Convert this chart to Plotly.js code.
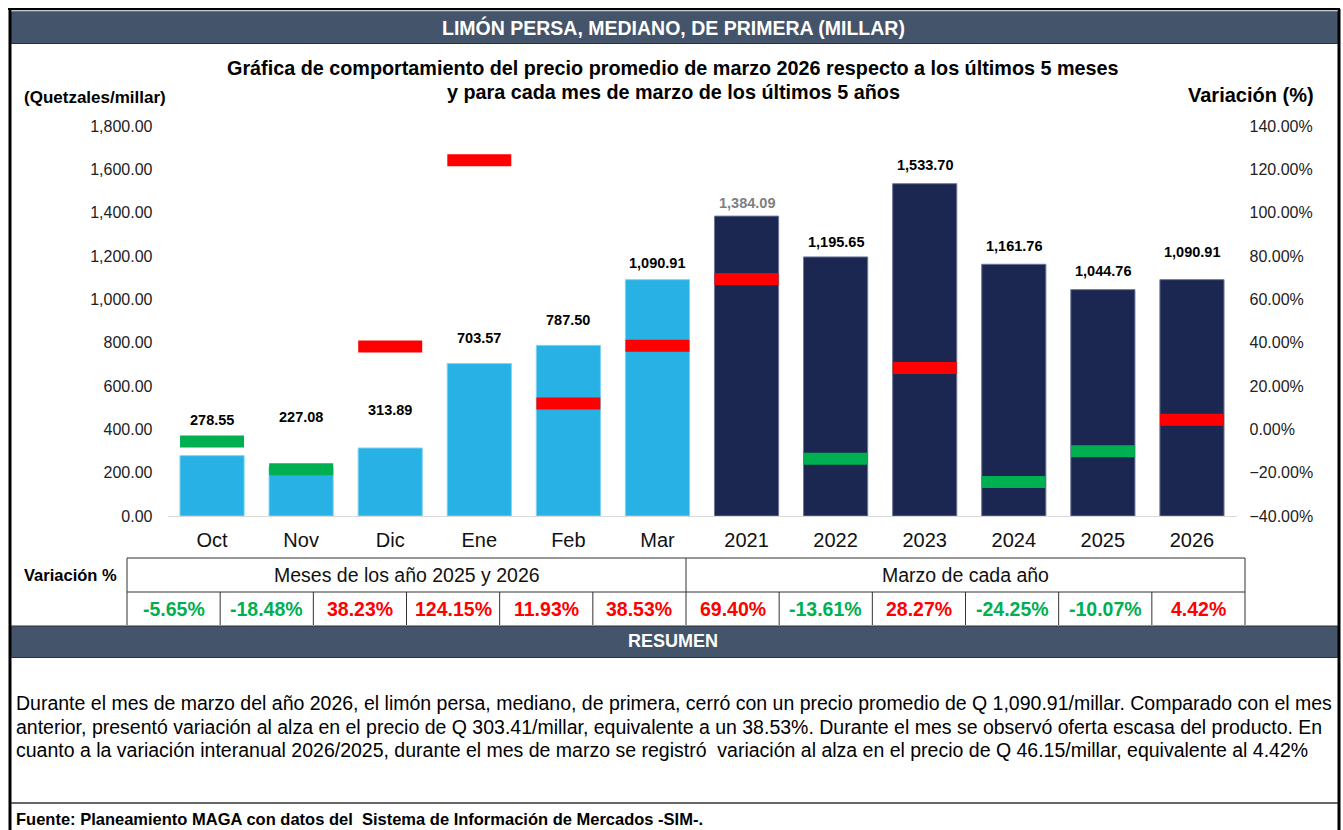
<!DOCTYPE html>
<html>
<head>
<meta charset="utf-8">
<script src="https://cdn.plot.ly/plotly-3.0.1.min.js"></script>
<style>
html,body{margin:0;padding:0;background:#fff;}
#chart{width:1343px;height:830px;}
</style>
</head>
<body>
<div id="chart"></div>
<script>
// ---- data ----
const categories = ['Oct','Nov','Dic','Ene','Feb','Mar','2021','2022','2023','2024','2025','2026'];
const prices = [278.55, 227.08, 313.89, 703.57, 787.50, 1090.91, 1384.09, 1195.65, 1533.70, 1161.76, 1044.76, 1090.91];
const variation = [-5.65, -18.48, 38.23, 124.15, 11.93, 38.53, 69.40, -13.61, 28.27, -24.25, -10.07, 4.42];
const groupLabels = ['Meses de los año 2025 y 2026', 'Marzo de cada año'];
const summaryLines = [
  'Durante el mes de marzo del año 2026, el limón persa, mediano, de primera, cerró con un precio promedio de Q 1,090.91/millar. Comparado con el mes',
  'anterior, presentó variación al alza en el precio de Q 303.41/millar, equivalente a un 38.53%. Durante el mes se observó oferta escasa del producto. En',
  'cuanto a la variación interanual 2026/2025, durante el mes de marzo se registró  variación al alza en el precio de Q 46.15/millar, equivalente al 4.42%'
];

// ---- styling helpers ----
const W = 1343, H = 830;
const px = x => x / W;
const py = y => 1 - y / H;
const FONT = 'Liberation Sans, Arial, sans-serif';
const HEAD = '#44546A';
const LIGHT = '#27B1E5';
const DARK = '#1C2751';
const RED = '#FF0000';
const GREEN = '#00B050';
const labelShift = [36, 50, 38, 26, 25, 17, 13, 15, 19, 18, 19, 28];

const fmtNum = v => v.toLocaleString('en-US', {minimumFractionDigits: 2, maximumFractionDigits: 2});
const fmtPct = v => v.toFixed(2) + '%';

const barColors = categories.map((c, i) => i < 6 ? LIGHT : DARK);
const barLine = categories.map((c, i) => i < 6 ? '#7FD3F2' : '#6C7699');
const varColors = variation.map(v => v < 0 ? GREEN : RED);

const traces = [
  {
    type: 'bar', x: categories, y: prices, yaxis: 'y',
    marker: {color: barColors, line: {color: barLine, width: 1}},
    hoverinfo: 'x+y', showlegend: false
  },
  {
    type: 'scatter', mode: 'markers', x: categories, y: variation, yaxis: 'y2',
    marker: {symbol: 'line-ew', size: 45.7, color: varColors, line: {color: varColors, width: 12}},
    hoverinfo: 'x+y', showlegend: false, cliponaxis: false
  }
];

const shapes = [];
const annotations = [];

// outer frame
shapes.push({type:'line', xref:'paper', yref:'paper', x0:px(8), x1:px(1340), y0:py(9), y1:py(9), line:{color:'#000', width:2}});
shapes.push({type:'line', xref:'paper', yref:'paper', x0:px(10), x1:px(10), y0:py(9), y1:py(830), line:{color:'#000', width:3}});
shapes.push({type:'line', xref:'paper', yref:'paper', x0:px(1339), x1:px(1339), y0:py(9), y1:py(830), line:{color:'#000', width:3}});

// header bars
shapes.push({type:'rect', xref:'paper', yref:'paper', x0:px(11), x1:px(1338), y0:py(43), y1:py(11), fillcolor:HEAD, line:{width:0}, layer:'below'});
shapes.push({type:'line', xref:'paper', yref:'paper', x0:px(11), x1:px(1338), y0:py(11), y1:py(11), line:{color:'#8E959E', width:1}});
shapes.push({type:'line', xref:'paper', yref:'paper', x0:px(11), x1:px(1338), y0:py(43.5), y1:py(43.5), line:{color:'#2B2F36', width:1}});
shapes.push({type:'rect', xref:'paper', yref:'paper', x0:px(11), x1:px(1338), y0:py(657), y1:py(626), fillcolor:HEAD, line:{width:0}, layer:'below'});
shapes.push({type:'line', xref:'paper', yref:'paper', x0:px(11), x1:px(1338), y0:py(626), y1:py(626), line:{color:'#2B2F36', width:1}});
shapes.push({type:'line', xref:'paper', yref:'paper', x0:px(11), x1:px(1338), y0:py(657.5), y1:py(657.5), line:{color:'#2B2F36', width:1}});

annotations.push({xref:'paper', yref:'paper', x:px(673), y:py(27), text:'<b>LIMÓN PERSA, MEDIANO, DE PRIMERA (MILLAR)</b>', showarrow:false, font:{family:FONT, size:19.5, color:'#fff'}, xanchor:'center', yanchor:'middle'});
annotations.push({xref:'paper', yref:'paper', x:px(673), y:py(641), text:'<b>RESUMEN</b>', showarrow:false, font:{family:FONT, size:18, color:'#fff'}, xanchor:'center', yanchor:'middle'});

// chart titles
annotations.push({xref:'paper', yref:'paper', x:px(673), y:py(68), text:'<b>Gráfica de comportamiento del precio promedio de marzo 2026 respecto a los últimos 5 meses</b>', showarrow:false, font:{family:FONT, size:19.8, color:'#000'}, xanchor:'center', yanchor:'middle'});
annotations.push({xref:'paper', yref:'paper', x:px(673), y:py(92), text:'<b>y para cada mes de marzo de los últimos 5 años</b>', showarrow:false, font:{family:FONT, size:19.8, color:'#000'}, xanchor:'center', yanchor:'middle'});
annotations.push({xref:'paper', yref:'paper', x:px(22), y:py(98), text:'<b>(Quetzales/millar)</b>', showarrow:false, font:{family:FONT, size:17, color:'#000'}, xanchor:'left', yanchor:'middle'});
annotations.push({xref:'paper', yref:'paper', x:px(1316), y:py(95), text:'<b>Variación (%)</b>', showarrow:false, font:{family:FONT, size:20, color:'#000'}, xanchor:'right', yanchor:'middle'});

// bar value labels
categories.forEach((c, i) => {
  annotations.push({
    x: i, y: prices[i], xref:'x', yref:'y', text:'<b>' + fmtNum(prices[i]) + '</b>',
    showarrow:false, yanchor:'middle', yshift: labelShift[i],
    font:{family:FONT, size:14.5, color: i === 6 ? '#7F7F7F' : '#000'}
  });
});

// table
const tL = 127, tR = 1245, cw = (tR - tL) / 12;
const r0 = 558, r1 = 592, r2 = 625;
const tline = {color:'#333', width:1};
shapes.push({type:'line', xref:'paper', yref:'paper', x0:px(tL), x1:px(tR), y0:py(r0), y1:py(r0), line:tline});
shapes.push({type:'line', xref:'paper', yref:'paper', x0:px(tL), x1:px(tR), y0:py(r1), y1:py(r1), line:tline});
for (let k = 0; k <= 12; k++) {
  const x = tL + k * cw;
  const full = (k === 0 || k === 6 || k === 12);
  shapes.push({type:'line', xref:'paper', yref:'paper', x0:px(x), x1:px(x), y0:py(full ? r0 : r1), y1:py(r2), line:tline});
}
annotations.push({xref:'paper', yref:'paper', x:px(22), y:py(575), text:'<b>Variación %</b>', showarrow:false, font:{family:FONT, size:16.5, color:'#000'}, xanchor:'left', yanchor:'middle'});
groupLabels.forEach((g, j) => {
  annotations.push({xref:'paper', yref:'paper', x:px(tL + (j * 6 + 3) * cw), y:py(575), text:g, showarrow:false, font:{family:FONT, size:19.5, color:'#111'}, xanchor:'center', yanchor:'middle'});
});
variation.forEach((v, i) => {
  annotations.push({xref:'paper', yref:'paper', x:px(tL + (i + 0.5) * cw), y:py(608.5), text:'<b>' + fmtPct(v) + '</b>', showarrow:false, font:{family:FONT, size:19.5, color: v < 0 ? GREEN : RED}, xanchor:'center', yanchor:'middle'});
});

// summary
summaryLines.forEach((s, i) => {
  annotations.push({xref:'paper', yref:'paper', x:px(14), y:py(703 + i * 23.5), text:s, showarrow:false, font:{family:FONT, size:19.5, color:'#000'}, xanchor:'left', yanchor:'middle'});
});
shapes.push({type:'line', xref:'paper', yref:'paper', x0:px(11), x1:px(1338), y0:py(803), y1:py(803), line:{color:'#333', width:1.5}});
annotations.push({xref:'paper', yref:'paper', x:px(14), y:py(819), text:'<b>Fuente: Planeamiento MAGA con datos del  Sistema de Información de Mercados -SIM-.</b>', showarrow:false, font:{family:FONT, size:16.5, color:'#000'}, xanchor:'left', yanchor:'middle'});

const layout = {
  width: W, height: H,
  margin: {l:0, r:0, t:0, b:0},
  paper_bgcolor: '#fff', plot_bgcolor: '#fff',
  showlegend: false,
  bargap: 0.28,
  xaxis: {
    type:'category', domain:[px(167.5), px(1236.5)], range:[-0.5, 11.5],
    showline:true, linecolor:'#D9D9D9', linewidth:1, showgrid:false, zeroline:false,
    ticks:'', ticklabelstandoff: 6,
    tickfont:{family:FONT, size:20, color:'#111'}, fixedrange:true
  },
  yaxis: {
    domain:[py(516), py(126)], range:[0, 1800], dtick:200,
    tickformat:',.2f', showgrid:false, zeroline:false, showline:false,
    ticks:'', ticklabelstandoff: 14,
    tickfont:{family:FONT, size:16, color:'#222'}, fixedrange:true
  },
  yaxis2: {
    overlaying:'y', side:'right', range:[-40, 140], dtick:20,
    tickformat:'.2f', ticksuffix:'%', showgrid:false, zeroline:false, showline:false,
    ticks:'', ticklabelstandoff: 12,
    tickfont:{family:FONT, size:16, color:'#222'}, fixedrange:true
  },
  shapes: shapes,
  annotations: annotations
};

Plotly.newPlot('chart', traces, layout, {displayModeBar:false, staticPlot:true});
</script>
</body>
</html>
